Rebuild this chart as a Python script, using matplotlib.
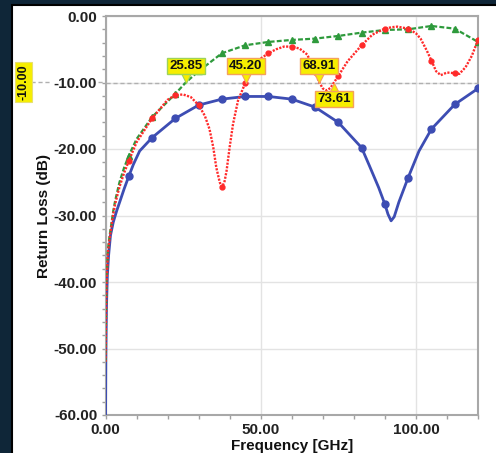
import numpy as np
import matplotlib
matplotlib.use("Agg")
import matplotlib.pyplot as plt
from matplotlib.path import Path
from matplotlib.patches import Rectangle
from matplotlib.lines import Line2D
from matplotlib.ticker import MultipleLocator, FormatStrFormatter

plt.rcParams['font.family'] = ['Liberation Sans', 'DejaVu Sans']

# ---- data ----
blue_f = [0.02, 0.1, 0.3, 0.6, 1.0, 1.6, 2.5, 3.6, 4.7, 6.0, 7.5, 9.0, 11.0, 15.0, 22.5, 30.0,
          37.5, 45.0, 52.5, 60.0, 67.5, 75.0, 82.5, 85.0, 88.0, 90.0, 91.0, 92.0, 93.0, 94.5,
          97.5, 101.0, 105.0, 112.5, 120.0]
blue_db = [-60.0, -52.0, -44.0, -39.0, -36.0, -33.0, -31.0, -29.3, -27.8, -26.0, -24.1, -22.3,
           -20.3, -18.3, -15.4, -13.4, -12.5, -12.1, -12.1, -12.5, -13.7, -16.0, -19.8, -22.5,
           -25.8, -28.3, -29.8, -30.8, -30.2, -28.0, -24.3, -20.3, -17.0, -13.3, -10.9]

red_f = [0.02, 0.1, 0.3, 0.8, 1.4, 2.5, 3.1, 4.5, 6.0, 7.5, 10.0, 15.0, 20.0, 22.5, 25.0, 27.5,
         30.0, 32.0, 33.5, 34.7, 35.7, 36.8, 37.5, 38.3, 39.0, 40.0, 41.1, 42.7, 45.0, 47.5,
         50.0, 52.5, 55.0, 57.5, 60.0, 62.5, 65.0, 67.5, 68.91, 70.0, 71.3, 72.5, 73.61, 75.0,
         78.0, 82.5, 86.0, 90.0, 92.0, 94.0, 97.5, 100.0, 101.5, 103.5, 105.0, 106.5, 108.0,
         110.0, 112.5, 114.0, 116.0, 118.0, 120.0]
red_db = [-52.0, -47.5, -40.5, -35.5, -33.2, -29.8, -28.3, -25.7, -23.6, -21.8, -19.0, -15.4,
          -12.6, -11.9, -11.8, -12.2, -13.4, -15.0, -17.0, -19.7, -22.8, -25.0, -25.7, -25.0,
          -23.3, -19.7, -16.2, -12.7, -10.1, -7.8, -6.4, -5.6, -5.0, -4.6, -4.6, -4.9, -5.8,
          -8.4, -10.0, -10.9, -11.2, -10.8, -10.0, -9.0, -6.8, -4.4, -2.8, -1.9, -1.7, -1.6,
          -1.9, -2.6, -3.4, -5.2, -6.7, -8.3, -8.9, -8.5, -8.6, -8.7, -7.7, -6.0, -3.6]

green_f = [0.02, 0.1, 0.3, 0.8, 1.4, 2.5, 3.1, 4.5, 6.0, 7.5, 10.0, 15.0, 22.5, 25.85, 30.0,
           37.5, 45.0, 52.5, 60.0, 67.5, 75.0, 82.5, 90.0, 97.5, 105.0, 112.5, 120.0]
green_db = [-52.0, -47.0, -40.0, -35.0, -32.8, -29.3, -27.8, -25.0, -22.8, -21.0, -18.5, -15.2,
            -11.7, -10.0, -8.3, -5.6, -4.4, -3.9, -3.6, -3.4, -3.0, -2.5, -2.1, -2.0, -1.5,
            -1.9, -3.9]

ref_level = -10.0
cross_f = [25.85, 45.20, 68.91, 73.61]
cross_txt = ["25.85", "45.20", "68.91", "73.61"]
cross_up = [True, True, True, False]          # label above (pointing down) or below
cross_edge = ["#9ed35a", "#f4a15c", "#f4a15c", "#f4a15c"]

# ---- figure ----
W, H = 496, 453
fig = plt.figure(figsize=(W / 100, H / 100), dpi=100, facecolor="#0f2638")
fig.patches.append(Rectangle((12 / W, -0.01), 1.0, 1 - 5 / H + 0.01, transform=fig.transFigure,
                             facecolor="white", edgecolor="black", lw=1.5, zorder=-5))

ax = fig.add_axes([105.5 / W, 1 - 415 / H, (478 - 105.5) / W, (415 - 16) / H])
ax.set_xlim(0, 120)
ax.set_ylim(-60, 0)
ax.set_facecolor("white")

ax.xaxis.set_major_locator(MultipleLocator(50))
ax.xaxis.set_minor_locator(MultipleLocator(10))
ax.yaxis.set_major_locator(MultipleLocator(10))
ax.yaxis.set_minor_locator(MultipleLocator(2))
ax.xaxis.set_major_formatter(FormatStrFormatter("%.2f"))
ax.yaxis.set_major_formatter(FormatStrFormatter("%.2f"))
ax.grid(True, which="major", color="#e3e3e3", lw=1.0)
ax.set_axisbelow(True)
for s in ax.spines.values():
    s.set_color("#a8a8a8")
    s.set_linewidth(1.5)
ax.tick_params(which="both", direction="out", color="#a0a0a0", length=3, width=1)
ax.tick_params(which="major", labelsize=11, pad=3)
for lbl in ax.get_xticklabels() + ax.get_yticklabels():
    lbl.set_fontweight("bold")
    lbl.set_color("#222222")

ax.set_xlabel("Frequency [GHz]", fontsize=11, fontweight="bold", labelpad=1, color="#111111")
ax.set_ylabel("Return Loss (dB)", fontsize=11, fontweight="bold", color="#111111")
ax.yaxis.set_label_coords(-0.146, 0.5)


def mark_idx(f):
    f = np.asarray(f)
    r = np.mod(f, 7.5)
    return list(np.where(((np.isclose(r, 0)) | np.isclose(r, 7.5)) & (f > 1))[0])


ax.axhline(ref_level, color="#b0b0b0", lw=1.0, ls=(0, (3, 2)), zorder=1)

ax.plot(blue_f, blue_db, color="#3d4db3", lw=2.0, marker="o", ms=5,
        markevery=mark_idx(blue_f), zorder=3)
ax.plot(green_f, green_db, color="#2e9a3c", lw=1.6, ls=(0, (2.2, 1.0)), marker="^", ms=4.5,
        markevery=mark_idx(green_f), zorder=4)
ax.plot(red_f, red_db, color="#ff2a2a", lw=1.7, ls=(0, (0.9, 0.6)), marker="o", ms=3.5,
        markevery=mark_idx(red_f), zorder=5)

# ---- crossing labels ----
tri_down = Path([(0, 0), (-0.5, 1), (0.5, 1), (0, 0)])
tri_up = Path([(0, 0), (-0.5, -1), (0.5, -1), (0, 0)])
for f, t, up, ec in zip(cross_f, cross_txt, cross_up, cross_edge):
    ax.plot([f], [ref_level], marker=tri_down if up else tri_up, ms=16, color="#f6ee00",
            mec=ec, mew=0.8, zorder=8, clip_on=False)
    dy = 11.9 if up else -11.9
    ax.annotate(t, (f, ref_level), xytext=(0, dy), textcoords="offset points",
                ha="center", va="center", fontsize=9.5, fontweight="bold", color="#111111",
                zorder=9, annotation_clip=False,
                bbox=dict(boxstyle="square,pad=0.18", fc="#f6ee00", ec=ec, lw=1.0))

# ---- reference level label on the left ----
y82 = 1 - 82 / H
fig.lines.append(Line2D([31 / W, 51 / W], [y82, y82], transform=fig.transFigure,
                        color="#b0b0b0", lw=1.0, ls=(0, (3, 2))))
fig.lines.append(Line2D([98 / W, 105.5 / W], [y82, y82], transform=fig.transFigure,
                        color="#b0b0b0", lw=1.0, ls=(0, (3, 2))))
fig.text(23.5 / W, y82, "-10.00", rotation=90, ha="center", va="center", fontsize=9,
         fontweight="bold", color="#111111",
         bbox=dict(boxstyle="square,pad=0.2", fc="#f6ee00", ec="#e8e070", lw=0.8))

fig.savefig("out.png", dpi=100, facecolor=fig.get_facecolor())
